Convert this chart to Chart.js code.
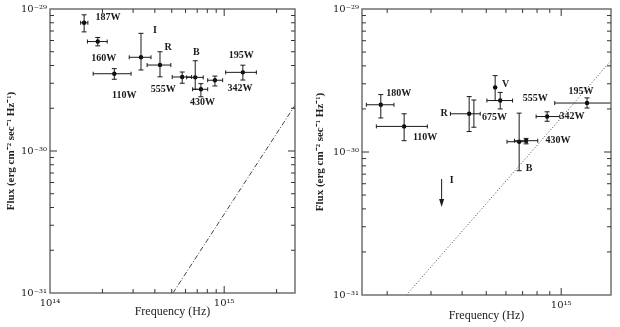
<!DOCTYPE html>
<html>
<head>
<meta charset="utf-8">
<script src="https://cdn.jsdelivr.net/npm/chart.js@4.4.0/dist/chart.umd.min.js"></script>
<style>
  body { margin: 0; background: #fff; }
  .panel { position: absolute; top: 0; width: 310px; height: 327px; }
</style>
</head>
<body>
<div class="panel" style="left:0"><canvas id="leftChart" width="310" height="327"></canvas></div>
<div class="panel" style="left:310px"><canvas id="rightChart" width="310" height="327"></canvas></div>
<script>
// ---- left panel data ----
const leftNames   = ['187W', '160W', '110W', 'I', 'R', '555W', 'B', '430W', '342W', '195W'];
const leftFreq    = [1.57e14, 1.88e14, 2.34e14, 3.33e14, 4.28e14, 5.74e14, 6.82e14, 7.35e14, 8.85e14, 1.28e15];
const leftFreqLo  = [1.50e14, 1.64e14, 1.77e14, 2.85e14, 3.61e14, 5.03e14, 6.09e14, 6.59e14, 8.04e14, 1.02e15];
const leftFreqHi  = [1.65e14, 2.13e14, 2.92e14, 3.80e14, 4.94e14, 6.50e14, 7.58e14, 8.04e14, 9.80e14, 1.53e15];
const leftFlux    = [8.0e-30, 5.9e-30, 3.5e-30, 4.57e-30, 4.03e-30, 3.32e-30, 3.30e-30, 2.72e-30, 3.15e-30, 3.58e-30];
const leftFluxLo  = [6.9e-30, 5.5e-30, 3.2e-30, 3.72e-30, 3.33e-30, 3.0e-30, 2.72e-30, 2.41e-30, 2.87e-30, 3.16e-30];
const leftFluxHi  = [9.1e-30, 6.3e-30, 3.8e-30, 6.74e-30, 5.0e-30, 3.6e-30, 4.32e-30, 2.98e-30, 3.37e-30, 4.02e-30];
const leftModelFreq = [5.08e14, 2.55e15];
const leftModelFlux = [1.0e-31, 2.1e-30];

// ---- right panel data ----
const rightNames  = ['180W', '110W', 'R', '675W', 'V', '555W', 'B', '430W', '342W', '195W'];
const rightFreq   = [1.886e14, 2.34e14, 4.27e14, 4.46e14, 5.43e14, 5.69e14, 6.78e14, 7.23e14, 8.78e14, 1.27e15];
const rightFreqLo = [1.65e14, 1.81e14, 3.59e14, null, null, 5.03e14, 6.06e14, 6.49e14, 7.93e14, 9.42e14];
const rightFreqHi = [2.13e14, 2.90e14, 4.73e14, null, null, 6.38e14, 7.30e14, 8.05e14, 9.87e14, 1.63e15];
const rightFlux   = [2.14e-30, 1.51e-30, 1.85e-30, 1.85e-30, 2.83e-30, 2.29e-30, 1.18e-30, 1.20e-30, 1.77e-30, 2.20e-30];
const rightFluxLo = [1.73e-30, 1.20e-30, 1.39e-30, 1.49e-30, 2.29e-30, 2.0e-30, 7.4e-31, 1.14e-30, 1.64e-30, 2.03e-30];
const rightFluxHi = [2.52e-30, 1.85e-30, 2.44e-30, 2.31e-30, 3.42e-30, 2.61e-30, 1.87e-30, 1.245e-30, 1.91e-30, 2.39e-30];
const rightLimitNames = ['I'];
const rightLimitFreq  = [3.31e14];
const rightLimitFlux  = [6.47e-31];
const rightModelFreq = [2.39e14, 1.585e15];
const rightModelFlux = [1.0e-31, 4.35e-30];

// ---- axes ----
const leftFreqRange  = [1e14, 2.55e15];
const rightFreqRange = [1.585e14, 1.585e15];
const fluxRange = [1e-31, 1e-29];
const leftFreqTicks  = [1e14, 2e14, 3e14, 4e14, 5e14, 6e14, 7e14, 8e14, 9e14, 1e15, 2e15];
const rightFreqTicks = [2e14, 3e14, 4e14, 5e14, 6e14, 7e14, 8e14, 9e14, 1e15];
const fluxTicks = [1e-31, 2e-31, 3e-31, 4e-31, 5e-31, 6e-31, 7e-31, 8e-31, 9e-31,
                   1e-30, 2e-30, 3e-30, 4e-30, 5e-30, 6e-30, 7e-30, 8e-30, 9e-30, 1e-29];
const freqDecades = [1e14, 1e15];
const freqDecadeLabels = ['10¹⁴', '10¹⁵'];
const fluxDecades = [1e-31, 1e-30, 1e-29];
const fluxDecadeLabels = ['10⁻³¹', '10⁻³⁰', '10⁻²⁹'];

// label placement, pixels from the point (centre of text)
const leftLabelOffsets = [[24, -5], [6, 17], [10, 22], [14, -27], [8, -18], [-19, 12], [1, -25], [1.5, 13], [25, 8], [-1.5, -16.5]];
const rightLabelOffsets = [[18, -11], [21, 11], [-25, -0.5], [20.5, 3.5], [10.5, -2.5], [35, -2], [10, 27], [32, 0], [25, 0], [-6, -11.5]];
const rightLimitOffsets = [[10, 1]];

const serif = 'Liberation Serif';
const tickFont = 'DejaVu Serif';

function isDecade(v) {
  const m = v / Math.pow(10, Math.floor(Math.log10(v) + 1e-9));
  return Math.abs(m - 1) < 1e-6;
}
function decadeLabel(v, decades, labels) {
  const i = decades.findIndex(d => Math.abs(v / d - 1) < 1e-6);
  return i < 0 ? '' : labels[i];
}
function seg(ctx, x0, y0, x1, y1) {
  ctx.beginPath(); ctx.moveTo(x0, y0); ctx.lineTo(x1, y1); ctx.stroke();
}

const errorBars = {
  id: 'errorBars',
  afterDatasetsDraw(chart, args, o) {
    const {ctx, chartArea: a} = chart;
    const x = chart.scales.x, y = chart.scales.y;
    ctx.save();
    ctx.strokeStyle = '#1a1a1a';
    ctx.fillStyle = '#1a1a1a';
    ctx.lineWidth = 1;
    ctx.font = 'bold 10px "' + serif + '"';
    ctx.textAlign = 'center';
    ctx.textBaseline = 'middle';
    o.freq.forEach((f, i) => {
      const px = x.getPixelForValue(f), py = y.getPixelForValue(o.flux[i]);
      if (o.freqLo[i] != null) {
        const x0 = x.getPixelForValue(o.freqLo[i]);
        const x1raw = x.getPixelForValue(o.freqHi[i]);
        const x1 = Math.min(x1raw, a.right);
        seg(ctx, x0, py, x1, py);
        seg(ctx, x0, py - 2, x0, py + 2);
        if (x1raw < a.right) seg(ctx, x1, py - 2, x1, py + 2);
      }
      const y0 = y.getPixelForValue(o.fluxLo[i]), y1 = y.getPixelForValue(o.fluxHi[i]);
      seg(ctx, px, y0, px, y1);
      seg(ctx, px - 2.5, y0, px + 2.5, y0);
      seg(ctx, px - 2.5, y1, px + 2.5, y1);
      const off = o.offsets[i];
      ctx.fillText(o.names[i], px + off[0], py + off[1]);
    });
    (o.limFreq || []).forEach((f, i) => {
      const px = x.getPixelForValue(f), py = y.getPixelForValue(o.limFlux[i]);
      seg(ctx, px, py, px, py + 22);
      ctx.beginPath();
      ctx.moveTo(px - 2.5, py + 20); ctx.lineTo(px + 2.5, py + 20); ctx.lineTo(px, py + 28);
      ctx.closePath(); ctx.fill();
      const off = o.limOffsets[i];
      ctx.fillText(o.limNames[i], px + off[0], py + off[1]);
    });
    ctx.restore();
  }
};

const frameTicks = {
  id: 'frameTicks',
  afterDraw(chart) {
    const {ctx, chartArea: a} = chart;
    const x = chart.scales.x, y = chart.scales.y;
    ctx.save();
    ctx.strokeStyle = '#707070';
    ctx.lineWidth = 1.5;
    ctx.strokeRect(a.left, a.top, a.right - a.left, a.bottom - a.top);
    ctx.strokeStyle = '#333';
    ctx.lineWidth = 1;
    x.ticks.forEach(t => {
      const px = x.getPixelForValue(t.value);
      if (px <= a.left + 1 || px >= a.right - 1) return;
      const len = isDecade(t.value) ? 7 : 4;
      seg(ctx, px, a.bottom, px, a.bottom - len);
      seg(ctx, px, a.top, px, a.top + len);
    });
    y.ticks.forEach(t => {
      const py = y.getPixelForValue(t.value);
      if (py <= a.top + 1 || py >= a.bottom - 1) return;
      const len = isDecade(t.value) ? 7 : 4;
      seg(ctx, a.left, py, a.left + len, py);
      seg(ctx, a.right, py, a.right - len, py);
    });
    ctx.restore();
  }
};

function makePanel(id, p) {
  const points = p.freq.map((f, i) => ({x: f, y: p.flux[i]}));
  const model = p.modelFreq.map((f, i) => ({x: f, y: p.modelFlux[i]}));
  return new Chart(document.getElementById(id), {
    type: 'scatter',
    data: {
      datasets: [
        {
          data: points,
          pointRadius: ctx => (p.names[ctx.dataIndex] === '675W' ? 0 : 2.2),
          backgroundColor: '#000',
          borderWidth: 0
        },
        {
          data: model,
          showLine: true,
          pointRadius: 0,
          borderColor: '#444',
          borderWidth: 1,
          borderDash: p.dash
        }
      ]
    },
    options: {
      responsive: false,
      animation: false,
      devicePixelRatio: 1,
      layout: {padding: p.padding},
      plugins: {
        legend: {display: false},
        tooltip: {enabled: false},
        errorBars: {
          names: p.names, freq: p.freq, freqLo: p.freqLo, freqHi: p.freqHi,
          flux: p.flux, fluxLo: p.fluxLo, fluxHi: p.fluxHi, offsets: p.offsets,
          limNames: p.limNames, limFreq: p.limFreq, limFlux: p.limFlux, limOffsets: p.limOffsets
        }
      },
      scales: {
        x: {
          type: 'logarithmic',
          min: p.xRange[0], max: p.xRange[1],
          afterBuildTicks: s => { s.ticks = p.xTicks.map(v => ({value: v})); },
          afterFit: s => { s.height = p.xHeight; },
          grid: {display: false, drawTicks: false},
          border: {display: false},
          ticks: {
            autoSkip: false, maxRotation: 0, padding: 4, color: '#222',
            font: {family: tickFont, size: 10},
            callback: v => decadeLabel(v, freqDecades, freqDecadeLabels)
          },
          title: {
            display: true, text: 'Frequency (Hz)', color: '#222',
            font: {family: serif, size: 12},
            padding: {top: 0, bottom: p.xTitlePad}
          }
        },
        y: {
          type: 'logarithmic',
          min: fluxRange[0], max: fluxRange[1],
          afterBuildTicks: s => { s.ticks = fluxTicks.map(v => ({value: v})); },
          afterFit: s => { s.width = p.yWidth; },
          grid: {display: false, drawTicks: false},
          border: {display: false},
          ticks: {
            autoSkip: false, padding: 3, color: '#222',
            font: {family: tickFont, size: 10},
            callback: v => decadeLabel(v, fluxDecades, fluxDecadeLabels)
          },
          title: {
            display: true, text: 'Flux (erg cm⁻² sec⁻¹ Hz⁻¹)', color: '#222',
            font: {family: serif, size: 11, weight: 'bold'},
            padding: {top: p.yTitlePad, bottom: 0}
          }
        }
      }
    },
    plugins: [errorBars, frameTicks]
  });
}

makePanel('leftChart', {
  names: leftNames, freq: leftFreq, freqLo: leftFreqLo, freqHi: leftFreqHi,
  flux: leftFlux, fluxLo: leftFluxLo, fluxHi: leftFluxHi, offsets: leftLabelOffsets,
  limNames: [], limFreq: [], limFlux: [], limOffsets: [],
  modelFreq: leftModelFreq, modelFlux: leftModelFlux, dash: [5, 2, 1, 2],
  xRange: leftFreqRange, xTicks: leftFreqTicks,
  padding: {top: 9, right: 15, left: 0, bottom: 0},
  xHeight: 34, yWidth: 50, xTitlePad: 8, yTitlePad: 5
});

makePanel('rightChart', {
  names: rightNames, freq: rightFreq, freqLo: rightFreqLo, freqHi: rightFreqHi,
  flux: rightFlux, fluxLo: rightFluxLo, fluxHi: rightFluxHi, offsets: rightLabelOffsets,
  limNames: rightLimitNames, limFreq: rightLimitFreq, limFlux: rightLimitFlux, limOffsets: rightLimitOffsets,
  modelFreq: rightModelFreq, modelFlux: rightModelFlux, dash: [1, 2],
  xRange: rightFreqRange, xTicks: rightFreqTicks,
  padding: {top: 8, right: 9, left: 0, bottom: 0},
  xHeight: 32, yWidth: 52, xTitlePad: 4, yTitlePad: 4
});
</script>
</body>
</html>
